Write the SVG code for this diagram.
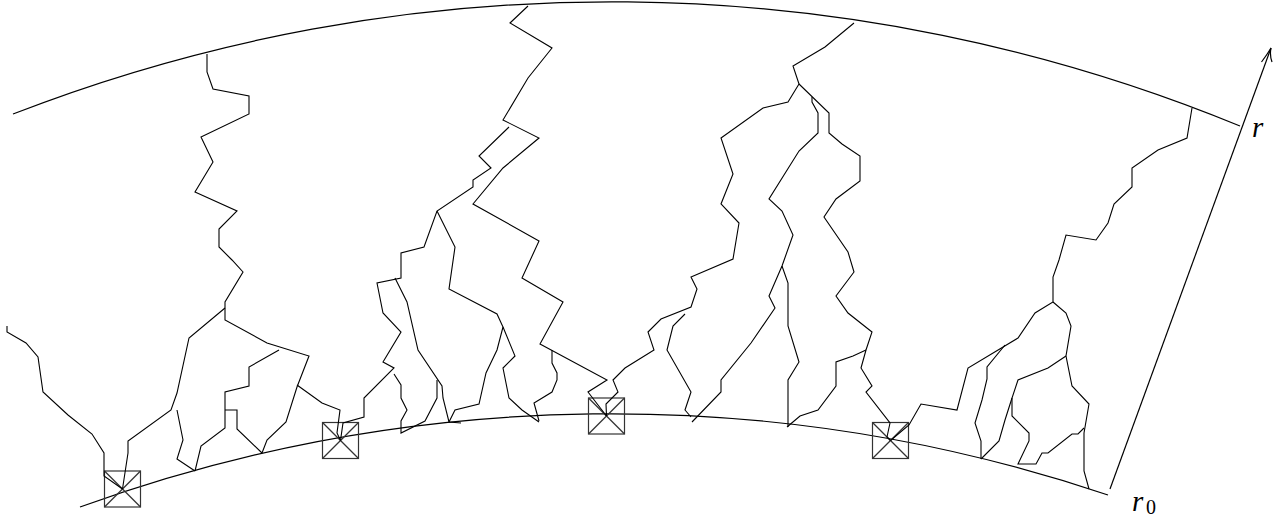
<svg xmlns="http://www.w3.org/2000/svg" width="1277" height="520" viewBox="0 0 1277 520">
<style>
.w{fill:none;stroke:#000;stroke-width:1.1;stroke-linejoin:miter}
.arc{fill:none;stroke:#000;stroke-width:1.2}
.box rect,.box line{fill:none;stroke:#333;stroke-width:1.2}
.lbl{font-family:"Liberation Serif",serif;fill:#000}
</style>
<rect width="1277" height="520" fill="#fff"/>
<g id="arcs">
<path class="arc" d="M13,114 A1653,1653 0 0 1 1240,126"/>
<path class="arc" d="M80,507 A1561,1561 0 0 1 1108,495"/>
</g>
<g id="axis">
<line class="arc" x1="1110" y1="489" x2="1271" y2="48"/>
<path class="arc" d="M1261.5,62 Q1267.5,54 1271,48 Q1269.5,55 1272,62"/>
<text class="lbl" x="1252" y="137" font-size="29" font-style="italic">r</text>
<text class="lbl" x="1132" y="511" font-size="29" font-style="italic">r</text>
<text class="lbl" x="1146" y="514" font-size="20">0</text>
</g>
<g id="box1" class="box"><rect x="104.5" y="471" width="36" height="36"/><line x1="104.5" y1="471" x2="140.5" y2="507"/><line x1="140.5" y1="471" x2="104.5" y2="507"/></g>
<g id="box2" class="box"><rect x="322.5" y="422.5" width="36" height="36"/><line x1="322.5" y1="422.5" x2="358.5" y2="458.5"/><line x1="358.5" y1="422.5" x2="322.5" y2="458.5"/></g>
<g id="box3" class="box"><rect x="588.5" y="398" width="36" height="36"/><line x1="588.5" y1="398" x2="624.5" y2="434"/><line x1="624.5" y1="398" x2="588.5" y2="434"/></g>
<g id="box4" class="box"><rect x="872.5" y="422.5" width="36" height="36"/><line x1="872.5" y1="422.5" x2="908.5" y2="458.5"/><line x1="908.5" y1="422.5" x2="872.5" y2="458.5"/></g>
<g id="walks">
<path class="w" d="M207,54 L207,72 L213,89 L249,96 L249,114 L201,137 L213,162 L195,192 L237,211 L219,229 L219,247 L232,260 L243,272 L225,302 L225,320 L267,343 L309,356 L297,387 L286,422 L267,440 L262,453"/>
<path class="w" d="M225,308 L189,338 L177,393 L171,410 L128,441 L128,453 L122.5,489"/>
<path class="w" d="M297,385 L322,403 L340,410 L337,433 L340.5,440.5"/>
<path class="w" d="M7,326 L7,332 L26,343 L38,357 L43,392 L68,415 L92,434 L104,453 L104,476 L122.5,489"/>
<path class="w" d="M279,350 L249,367 L249,386 L225,392 L225,428 L201,446 L195,471"/>
<path class="w" d="M225,410 L237,410 L237,429 L262,453"/>
<path class="w" d="M177,410 L183,440 L177,459 L195,471"/>
<path class="w" d="M340.5,440.5 L343,423 L364,417 L364,398 L394,368 L383,362 L401,332 L383,313 L377,283 L401,278 L401,253 L424,247 L437,211 L473,187 L473,180 L491,168 L479,156 L509,127"/>
<path class="w" d="M395,278 L407,302 L418,350 L442,386 L443,398 L449,422 L461,423"/>
<path class="w" d="M437,211 L455,247 L449,289 L497,314 L503,327 L497,350 L486,373 L479,404 L455,410 L449,422"/>
<path class="w" d="M437,380 L437,398 L425,421 L401,433 L401,421 L407,410 L401,398 L401,385 L394,374"/>
<path class="w" d="M503,327 L515,356 L503,368 L509,398 L522,410 L539,422"/>
<path class="w" d="M552,350 L552,363 L557,373 L557,380 L552,392 L534,403 L539,421"/>
<path class="w" d="M528,6 L510,23 L552,48 L528,78 L503,120 L539,138 L503,168 L473,204 L539,241 L522,278 L563,302 L540,344 L607,380 L588,392 L606.5,416"/>
<path class="w" d="M854,23 L825,47 L793,66 L799,84 L788,102 L763,108 L721,138 L733,174 L721,204 L739,223 L733,259 L691,277 L697,289 L691,307 L661,319 L648,332 L654,350 L625,368 L613,380 L618,392 L606,404 L606.5,416"/>
<path class="w" d="M685,314 L673,326 L667,350 L691,392 L685,410 L691,417"/>
<path class="w" d="M812,97 L812,102 L818,113 L818,133 L799,151 L769,199 L782,211 L793,235 L782,266 L769,296 L775,308 L751,343 L721,380 L721,392 L692,422"/>
<path class="w" d="M799,84 L829,113 L829,133 L842,144 L860,156 L860,181 L836,199 L824,217 L848,252 L854,272 L836,296 L848,313 L872,332 L866,350 L861,368 L872,386 L866,392 L890,423 L887,437 L890.5,440.5"/>
<path class="w" d="M866,350 L853,356 L836,362 L836,386 L818,410 L800,416 L787,427"/>
<path class="w" d="M782,266 L788,283 L788,326 L799,362 L788,380 L788,427"/>
<path class="w" d="M1192,108 L1187,138 L1158,150 L1132,168 L1132,187 L1114,204 L1108,223 L1096,240 L1066,235 L1059,260 L1053,277 L1053,302 L1035,313 L1018,338 L968,368 L957,410 L921,404 L909,425 L890.5,440.5"/>
<path class="w" d="M1053,302 L1066,313 L1071,326 L1066,356 L1072,386 L1089,404 L1084,433 L1084,471 L1089,489"/>
<path class="w" d="M1066,356 L1048,368 L1018,380 L1012,398 L1012,416 L1029,433 L1029,441 L1018,464 L1036,464 L1042,453 L1048,453 L1072,434 L1078,434 L1084,428"/>
<path class="w" d="M1012,398 L1005,420 L999,441 L981,459"/>
<path class="w" d="M1005,345 L987,367 L987,379 L982,400 L975,423 L981,441 L981,459"/>
</g>
</svg>
